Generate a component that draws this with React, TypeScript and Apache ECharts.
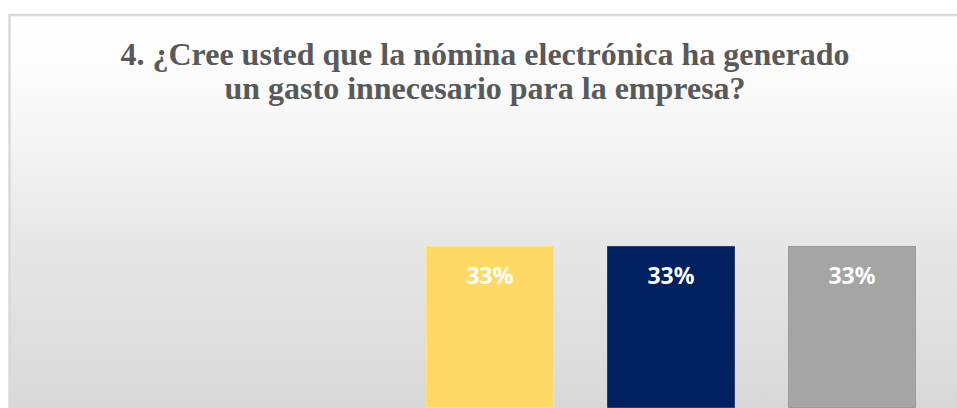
import React, { useEffect, useRef } from "react";
import * as echarts from "echarts";

const titleLines = [
  "4. ¿Cree usted que la nómina electrónica ha generado",
  "un gasto innecesario para la empresa?",
];
const categories = ["Sí", "No", "Tal vez"];
const values = [33, 33, 33];
const barColors = ["#FFD966", "#002060", "#A5A5A5"];
const barBorders = ["#FFE08A", "#2A3F7A", "#9A9A9A"];

export default function App() {
  const ref = useRef<HTMLDivElement>(null);
  useEffect(() => {
    if (!ref.current) return;
    const chart = echarts.init(ref.current, undefined, { renderer: "svg" });
    chart.setOption({
      animation: false,
      backgroundColor: "#ffffff",
      graphic: [
        {
          type: "rect",
          z: -10,
          silent: true,
          shape: { x: 9.5, y: 15, width: 960, height: 420 },
          style: {
            stroke: "#d9d9d9",
            lineWidth: 2.5,
            fill: new echarts.graphic.LinearGradient(0, 0, 0, 1, [
              { offset: 0, color: "#ffffff" },
              { offset: 0.1, color: "#fdfdfd" },
              { offset: 0.275, color: "#f6f6f6" },
              { offset: 0.51, color: "#e8e8e8" },
              { offset: 0.92, color: "#d9d9d9" },
              { offset: 1, color: "#d6d6d6" },
            ]),
          },
        },
      ],
      title: {
        text: titleLines.join("\n"),
        left: 480,
        top: 32.5,
        textAlign: "center",
        textStyle: {
          fontFamily: "Liberation Serif",
          fontWeight: "bold",
          fontSize: 32,
          lineHeight: 33.5,
          color: "#595959",
        },
      },
      grid: { left: 399.5, right: 14.5, top: 162.5, bottom: 0 },
      xAxis: {
        type: "category",
        data: categories,
        axisLine: { show: false },
        axisTick: { show: false },
        axisLabel: { show: false },
      },
      yAxis: {
        type: "value",
        min: 0,
        max: 50,
        show: false,
        splitLine: { show: false },
      },
      series: [
        {
          type: "bar",
          barWidth: 128,
          data: values.map((v, i) => ({
            value: v,
            itemStyle: { color: barColors[i], borderColor: barBorders[i], borderWidth: 1 },
          })),
          label: {
            show: true,
            position: "insideTop",
            distance: 18,
            formatter: "{c}%",
            color: "#ffffff",
            fontFamily: "Noto Sans",
            fontWeight: "bold",
            fontSize: 23,
          },
        },
      ],
    });
    return () => chart.dispose();
  }, []);
  return (
    <div
      ref={ref}
      style={{ position: "fixed", left: 0, top: 0, width: 957, height: 408 }}
    />
  );
}
